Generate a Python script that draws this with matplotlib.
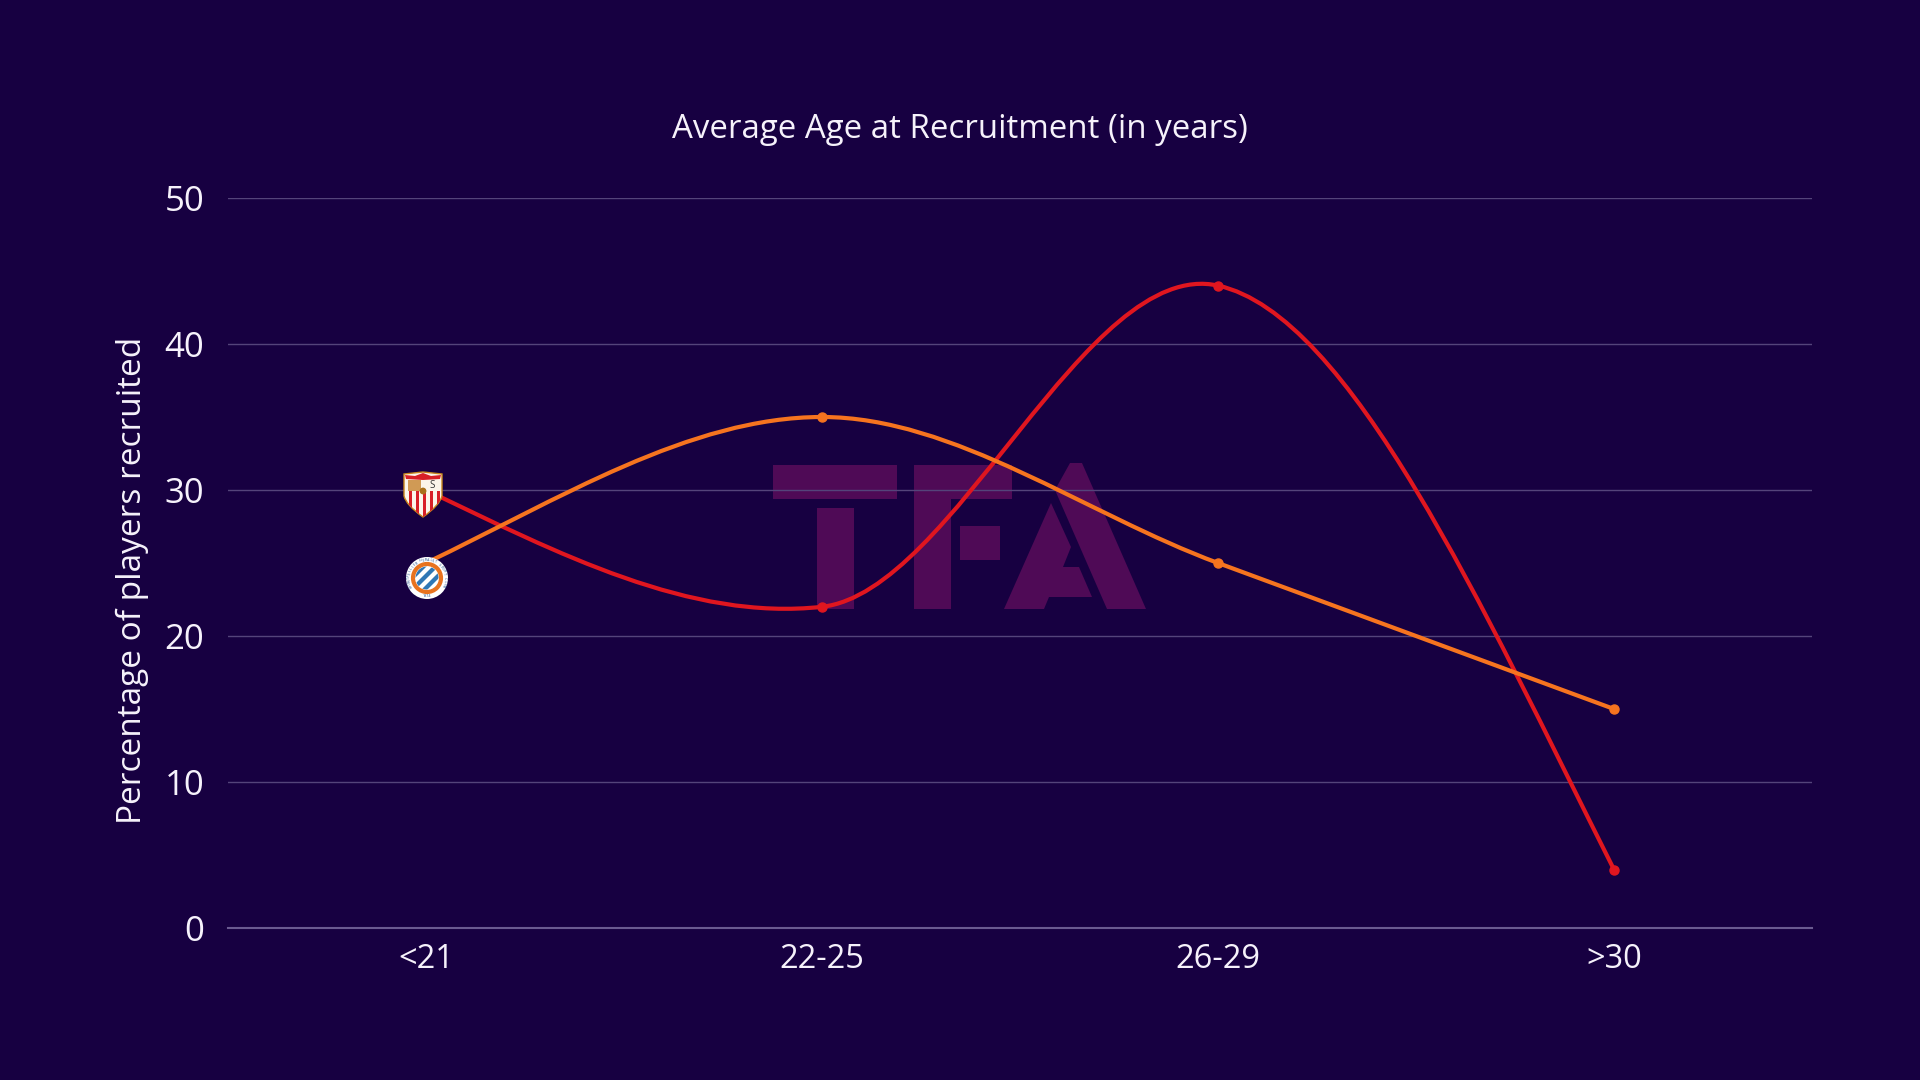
import numpy as np
import matplotlib
matplotlib.use('Agg')
import matplotlib.pyplot as plt
from matplotlib.path import Path
from matplotlib.patches import PathPatch, Polygon, Circle, Rectangle

# Chart data
age_groups = ['<21', '22-25', '26-29', '>30']
sevilla = [30, 22, 44, 4]
montpellier = [25, 35, 25, 15]
y_ticks = [0, 10, 20, 30, 40, 50]

# Slope of each curve where it passes a point, units per category
sevilla_slopes = [-13, 3, -6, -54]
montpellier_slopes = [13, 0, -10, -10]

title = 'Average Age at Recruitment (in years)'
y_title = 'Percentage of players recruited'

bg_color = '#170041'
text_color = '#f6f2fb'
grid_color = '#54447a'
base_color = '#6a5a90'
red = '#e0161f'
orange = '#f6741f'
mark_color = '#4f0a56'

W, H = 1920, 1080
plt.rcParams['font.family'] = ['Open Sans', 'DejaVu Sans']

fig = plt.figure(figsize=(W / 100, H / 100), dpi=100, facecolor=bg_color)


def pixel_axes(zorder):
    """
        Full figure axes in pixel units, y going down
    """
    a = fig.add_axes([0, 0, 1, 1], zorder=zorder)
    a.set_xlim(0, W)
    a.set_ylim(H, 0)
    a.set_axis_off()
    return a


def spline_path(values, slopes):
    """
        Bezier curve through the points with the given slopes
    """
    verts = [(0, values[0])]
    codes = [Path.MOVETO]
    for i in range(len(values) - 1):
        verts += [(i + 1 / 3, values[i] + slopes[i] / 3),
                  (i + 2 / 3, values[i + 1] - slopes[i + 1] / 3),
                  (i + 1, values[i + 1])]
        codes += [Path.CURVE4] * 3
    return Path(verts, codes)


################################################################################
#                                TFA watermark                                 #
################################################################################

back = pixel_axes(0)
mark_shapes = [
    [(773, 465), (897, 465), (897, 499), (773, 499)],
    [(817, 508), (854, 508), (854, 609), (817, 609)],
    [(914, 465), (1012, 465), (1012, 499), (951, 499), (951, 609), (914, 609)],
    [(960, 526), (1000, 526), (1000, 560), (960, 560)],
    [(1070, 463), (1082, 463), (1146, 609), (1107, 609), (1055, 490)],
    [(1051, 503), (1071, 547), (1063, 567), (1079, 567), (1092, 597),
     (1049, 597), (1044, 609), (1004, 609)],
]
for shape in mark_shapes:
    back.add_patch(Polygon(shape, closed=True, facecolor=mark_color, edgecolor='none'))

################################################################################
#                                  Main chart                                  #
################################################################################

ax = fig.add_axes([228 / W, 1 - 928 / H, (1812 - 228) / W, (928 - 198) / H], zorder=1)
ax.patch.set_alpha(0)
ax.set_xlim(-0.5, 3.5)
ax.set_ylim(0, 50)
ax.set_xticks(range(len(age_groups)))
ax.set_xticklabels(age_groups)
ax.set_yticks(y_ticks)
ax.tick_params(axis='both', length=0, colors=text_color)
ax.tick_params(axis='x', pad=11, labelsize=23.5)
ax.tick_params(axis='y', pad=17, labelsize=25)
ax.grid(axis='y', color=grid_color, linewidth=1)
ax.set_axisbelow(True)
for side in ['top', 'right', 'left']:
    ax.spines[side].set_visible(False)
ax.spines['bottom'].set_color(base_color)
ax.spines['bottom'].set_linewidth(1.5)

for values, slopes, color in [(sevilla, sevilla_slopes, red),
                              (montpellier, montpellier_slopes, orange)]:
    ax.add_patch(PathPatch(spline_path(values, slopes), facecolor='none', edgecolor=color,
                           linewidth=3, capstyle='round', zorder=3))
    ax.plot(range(len(values)), values, linestyle='none', marker='o', markersize=6.5,
            color=color, zorder=3, clip_on=False)

fig.text(960 / W, 1 - 130 / H, title, color=text_color, fontsize=23.8, ha='center', va='center')
fig.text(132 / W, 1 - 580 / H, y_title, color=text_color, fontsize=24, rotation=90,
         ha='center', va='center')

################################################################################
#                                  Club crests                                 #
################################################################################

top = pixel_axes(2)

# Sevilla shield
shield = Path(
    [(404, 474), (423, 472), (442, 474), (442, 496), (440, 505), (423, 517), (406, 505),
     (404, 496), (404, 474)],
    [Path.MOVETO, Path.LINETO, Path.LINETO, Path.LINETO, Path.CURVE3, Path.CURVE3,
     Path.CURVE3, Path.CURVE3, Path.CLOSEPOLY],
)
body = PathPatch(shield, facecolor='#fbf5ea', edgecolor='#c8861c', linewidth=1)
top.add_patch(body)
for stripe_x in range(409, 440, 7):
    s = Rectangle((stripe_x, 491), 3.4, 27, facecolor='#d81f26', edgecolor='none')
    top.add_patch(s)
    s.set_clip_path(body)
top.add_patch(Polygon([(405, 475), (415, 476), (423, 473), (431, 476), (441, 475), (440, 479),
                       (423, 480), (406, 479)], closed=True, facecolor='#d81f26', edgecolor='none'))
top.add_patch(Rectangle((408, 480), 13, 11, facecolor='#d09a55', edgecolor='none'))
top.text(432, 485, 'S', fontsize=7, color='#333333', ha='center', va='center')
top.add_patch(Circle((423, 491), 3.4, facecolor='#a8701a', edgecolor='none'))

# Montpellier badge
centre = (427, 578)
top.add_patch(Circle(centre, 21, facecolor='white', edgecolor='none'))
ring = Circle(centre, 14, facecolor='white', edgecolor='#e8731f', linewidth=3)
top.add_patch(ring)
for offset in [-9, -3, 3, 9]:
    band = Polygon([(centre[0] - 13 + offset, centre[1] + 13 + offset),
                    (centre[0] - 13 + offset + 3, centre[1] + 13 + offset + 3),
                    (centre[0] + 13 + offset + 3, centre[1] - 13 + offset + 3),
                    (centre[0] + 13 + offset, centre[1] - 13 + offset)],
                   closed=True, facecolor='#2f77b5', edgecolor='none')
    top.add_patch(band)
    band.set_clip_path(Circle(centre, 11.5, transform=top.transData))
badge_name = 'MONTPELLIER HERAULT SPORT CLUB'
for letter, angle in zip(badge_name, np.linspace(205, -25, len(badge_name))):
    top.text(centre[0] + 18 * np.cos(np.radians(angle)), centre[1] - 18 * np.sin(np.radians(angle)),
             letter, fontsize=2.6, color='#1d4f8c', ha='center', va='center',
             rotation=angle - 90)
top.text(centre[0], centre[1] + 18, '1974', fontsize=2.6, color='#1d4f8c', ha='center', va='center')

fig.savefig('out.png', dpi=100, facecolor=bg_color)
